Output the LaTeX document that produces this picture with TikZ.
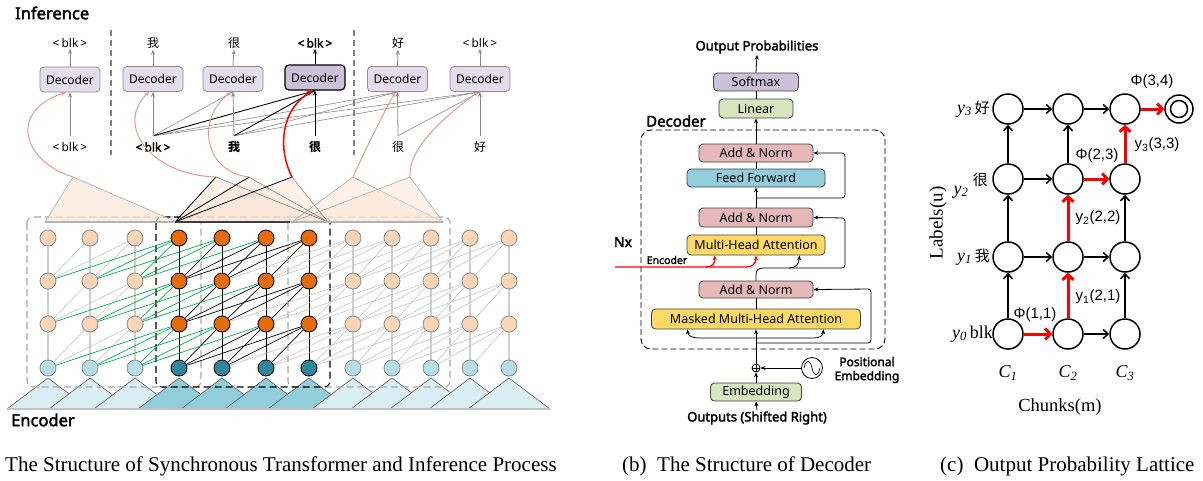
\documentclass[tikz,border=0pt]{standalone}
\usepackage{fontspec}
\setmainfont{Liberation Serif}
\newfontfamily\ns{Noto Sans}[AutoFakeBold=2.2]
\newfontfamily\cjk{Noto Sans CJK SC}
\newfontfamily\ls{Liberation Sans}
\usetikzlibrary{arrows.meta,calc}
\pgfdeclarelayer{bg}
\pgfsetlayers{bg,main}
\definecolor{beigeN}{HTML}{FBD5B5}
\definecolor{blueN}{HTML}{B7DEE8}
\definecolor{orangeN}{HTML}{E46C0A}
\definecolor{tealN}{HTML}{31859C}
\definecolor{encD}{HTML}{8C8C8C}
\definecolor{triL}{HTML}{DAEEF3}
\definecolor{triD}{HTML}{92CDDC}
\definecolor{topT}{HTML}{FBE5D6}
\definecolor{decF}{HTML}{E2DEEB}
\definecolor{decHc}{HTML}{CCC1DA}
\definecolor{decD}{HTML}{8C8C8C}
\definecolor{pinkL}{HTML}{E39A93}
\definecolor{grnL}{HTML}{00B050}
\definecolor{lgry}{HTML}{C4C4C4}
\definecolor{lgryv}{HTML}{CFCFCF}
\definecolor{gA}{HTML}{8A8A8A}
\definecolor{softF}{HTML}{CCC0DA}
\definecolor{linF}{HTML}{D7E4BD}
\definecolor{anF}{HTML}{E6B9B8}
\definecolor{ffF}{HTML}{93CDDD}
\definecolor{mhaF}{HTML}{FFD966}
\definecolor{bxD}{HTML}{404040}
\tikzset{
 enc/.style={circle,draw=encD,fill=beigeN,minimum size=16pt,inner sep=0pt,line width=0.8pt},
 encB/.style={enc,fill=blueN},
 encH/.style={enc,draw=black,fill=orangeN},
 encHB/.style={encH,fill=tealN},
 gl/.style={draw=lgry,line width=0.6pt},
 glv/.style={draw=lgryv,line width=1.3pt},
 bl/.style={draw=black,line width=0.7pt},
 gn/.style={draw=grnL,line width=0.7pt},
 dec/.style={draw=decD,fill=decF,rounded corners=4pt,minimum width=60pt,minimum height=25pt,inner sep=0pt,line width=0.8pt,font=\ns\fontsize{12}{14}\selectfont},
 decK/.style={dec,draw=black,fill=decHc,line width=1.2pt},
 tok/.style={font=\ns\fontsize{12}{14}\selectfont,inner sep=0pt,minimum height=22pt},
 otok/.style={font=\ns\fontsize{12}{14}\selectfont,inner sep=1pt},
 ga/.style={draw=gA,line width=0.6pt},
 bk/.style={draw=black,line width=0.9pt},
 arrG/.style={-{Stealth[length=5pt,width=4pt]},draw=gA,line width=0.8pt},
 arrK/.style={-{Stealth[length=5pt,width=4pt]},draw=black,line width=1pt},
 pinkc/.style={-{Stealth[length=5pt,width=4pt]},draw=pinkL,line width=1pt},
 redc/.style={-{Stealth[length=6pt,width=5pt]},draw=red,line width=1.5pt},
 sepl/.style={draw=gray,line width=1.3pt,dash pattern=on 6pt off 4pt},
 chunkG/.style={draw=gray!70,line width=1.1pt,dash pattern=on 7pt off 4pt,rounded corners=6pt},
 chunkK/.style={draw=black,line width=1.1pt,dash pattern=on 7pt off 4pt,rounded corners=6pt},
 bx/.style={draw=bxD,line width=0.8pt,rounded corners=4pt,inner sep=0pt,font=\ns\fontsize{12.5}{14}\selectfont},
 lnB/.style={draw=black,line width=0.8pt},
 arrB/.style={-{Stealth[length=5pt,width=4pt]},draw=black,line width=0.8pt},
 redA/.style={-{Stealth[length=5pt,width=4pt]},draw=red,line width=1.3pt},
 blab/.style={font=\ns\bfseries\fontsize{12.5}{14}\selectfont,inner sep=1pt},
 lat/.style={circle,draw,line width=1.5pt,minimum size=30pt,inner sep=0pt},
 larr/.style={-{Straight Barb[length=5pt,width=9pt]},line width=1.5pt},
 rarr/.style={-{Straight Barb[length=5pt,width=11pt]},draw=red,line width=3pt},
 plab/.style={font=\ls\fontsize{15}{17}\selectfont,inner sep=0pt},
 captxt/.style={font=\fontsize{21}{23}\selectfont,anchor=west,inner sep=0pt}
}
\begin{document}
\begin{tikzpicture}[x=1pt,y=-1pt]
\useasboundingbox (0,0) rectangle (1203,480);
% ---------------- (a) encoder grid ----------------
\def\xs{48,90,135,179,222,266,309,353,392,431,470,509}
\foreach \xx [count=\c from 0] in \xs {
  \foreach \yy [count=\r from 0] in {238,281,324,368} {
    \def\st{enc}\ifnum\c>2 \ifnum\c<7 \def\st{encH}\fi\fi
    \ifnum\r=3 \edef\st{\st B}\fi
    \node[\st] (e-\r-\c) at (\xx,\yy) {};
  }
}
\begin{pgfonlayer}{bg}
% bottom triangles
\foreach \xx [count=\c from 0] in \xs {
  \def\tf{triL}\ifnum\c>2 \ifnum\c<7 \def\tf{triD}\fi\fi
  \filldraw[fill=\tf,draw=black!65,line width=0.6pt] (\xx-41,409) -- (\xx,378) -- (\xx+41,409) -- cycle;
}
\draw[draw=lgry,line width=1.5pt] (7,409) -- (550,409);
% chunk boxes
\draw[chunkG] (27,217) rectangle (201,387);
\draw[chunkG] (288,217) rectangle (450,387);
\draw[chunkK] (156,217) rectangle (330,387);
% top triangles
\coordinate (a1) at (73,177);
\coordinate (a2) at (216,177);
\coordinate (a3) at (249,177);
\coordinate (a4) at (292,177);
\coordinate (a5) at (353,177);
\coordinate (a6) at (410,177);
\fill[topT,opacity=0.7] (45,222) -- (a1) -- (177,222) -- cycle;
\draw[draw=black!30,line width=0.7pt] (45,222) -- (a1) -- (177,222);
\foreach \a in {a2,a3,a4}{
  \fill[topT,opacity=0.55] (175,222) -- (\a) -- (328,222) -- cycle;
}
\foreach \a in {a5,a6}{
  \fill[topT,opacity=0.55] (292,222) -- (\a) -- (443,222) -- cycle;
  \draw[draw=black!30,line width=0.7pt] (292,222) -- (\a) -- (443,222);
}
\foreach \a in {a2,a3,a4}{
  \draw[draw=black!45,line width=0.7pt] (\a) -- (328,222);
  \draw[draw=black,line width=0.8pt] (175,222) -- (\a);
}
\draw[draw=black!30,line width=1.2pt] (45,222) -- (443,222);
\draw[draw=black!75,line width=1.3pt] (175,222) -- (290,222);
% encoder connections
\foreach \r in {0,1,2}{
  \pgfmathtruncatemacro\rr{\r+1}
  \foreach \c in {0,...,11}{
    \foreach \k in {0,1,2,3}{
      \pgfmathtruncatemacro\tc{\c-\k}
      \ifnum\tc>-1
        \def\sty{gl}\ifnum\k=0 \def\sty{glv}\fi
        \ifnum\c>2 \ifnum\c<7 \def\sty{bl}\ifnum\tc<3 \def\sty{gn}\fi\fi\fi
        \draw[\sty] (e-\r-\c) -- (e-\rr-\tc);
      \fi
    }
  }
}
\end{pgfonlayer}
\node[font=\ns\bfseries\fontsize{16.5}{18}\selectfont,anchor=west,inner sep=0pt] (enclab) at (11,420) {Encoder};
\node[font=\ns\bfseries\fontsize{16.5}{18}\selectfont,anchor=west,inner sep=0pt] (inflab) at (15,13) {Inference};
% ---------------- (a) inference ----------------
\draw[sepl] (111,30) -- (111,155);
\draw[sepl] (354,30) -- (354,155);
\node[dec] (d1) at (70,79.5) {Decoder};
\node[dec] (d2) at (153,79) {Decoder};
\node[dec] (d3) at (233,79) {Decoder};
\node[decK] (d4) at (315,77.5) {Decoder};
\node[dec] (d5) at (397.5,79) {Decoder};
\node[dec] (d6) at (480,79) {Decoder};
\node[otok] (o1) at (70,43) {\textless\,blk\,\textgreater};
\node[otok] (o2) at (153,43) {\cjk 我};
\node[otok] (o3) at (234,43) {\cjk 很};
\node[otok,font=\ns\bfseries\fontsize{12}{14}\selectfont] (o4) at (315,43) {\textless\,blk\,\textgreater};
\node[otok] (o5) at (398,43) {\cjk 好};
\node[otok] (o6) at (480,43) {\textless\,blk\,\textgreater};
\node[tok] (i1) at (70,147) {\textless\,blk\,\textgreater};
\node[tok,font=\ns\bfseries\fontsize{12}{14}\selectfont] (i2) at (153,147) {\textless\,blk\,\textgreater};
\node[tok] (i3) at (234,147) {\cjk\bfseries 我};
\node[tok] (i4) at (315,147) {\cjk\bfseries 很};
\node[tok] (i5) at (398,147) {\cjk 很};
\node[tok] (i6) at (480,147) {\cjk 好};
\foreach \n in {1,2,3,5,6}{\draw[arrG] (d\n.north) -- (o\n.south);}
\draw[arrK] (d4.north) -- (o4.south);
\foreach \a/\b in {2/3,2/5,2/6,3/5,3/6,5/6}{\draw[ga] (i\a.north) -- (d\b.south);}
\foreach \a in {2,3}{\draw[bk] (i\a.north) -- (d4.south);}
\foreach \n in {1,2,3,5,6}{\draw[arrG] (i\n.north) -- (d\n.south);}
\draw[arrK] (i4.north) -- (d4.south);
\draw[pinkc] (a1) .. controls (20,160) and (10,110) .. ([xshift=-4pt]d1.south);
\draw[pinkc] (a2) .. controls (150,175) and (115,125) .. ([xshift=-4pt]d2.south);
\draw[pinkc] (a3) .. controls (205,172) and (195,120) .. ([xshift=-2pt]d3.south);
\draw[redc] (a4) .. controls (278,150) and (280,110) .. ([xshift=-2pt]d4.south);
\draw[pinkc] (a5) .. controls (365,150) and (385,110) .. ([xshift=-2pt]d5.south);
\draw[pinkc] (a6) .. controls (408,150) and (440,120) .. ([xshift=-2pt]d6.south);
% ---------------- (b) decoder ----------------
\draw[draw=black,line width=0.9pt,dash pattern=on 6pt off 3pt,rounded corners=10pt] (641,130) rectangle (885,349);
\node[blab,font=\ns\bfseries\fontsize{15}{17}\selectfont] (declab) at (676,121) {Decoder};
\node[blab,font=\ns\bfseries\fontsize{14}{16}\selectfont] (nx) at (623,242) {Nx};
\node[blab,font=\ns\bfseries\fontsize{13}{15}\selectfont] (outp) at (757,47) {Output Probabilities};
\node[bx,fill=softF,minimum width=85pt,minimum height=18pt] (soft) at (756,82) {Softmax};
\node[bx,fill=linF,minimum width=74pt,minimum height=19pt] (lin) at (756,108.5) {Linear};
\node[bx,fill=anF,minimum width=114pt,minimum height=18pt] (an1) at (756,153) {Add \& Norm};
\node[bx,fill=ffF,minimum width=138pt,minimum height=18pt] (ff) at (756,178) {Feed Forward};
\node[bx,fill=anF,minimum width=114pt,minimum height=19pt] (an2) at (756,217.5) {Add \& Norm};
\node[bx,fill=mhaF,minimum width=138pt,minimum height=20pt] (mha) at (756,245) {Multi-Head Attention};
\node[bx,fill=anF,minimum width=114pt,minimum height=17pt] (an3) at (756,289.5) {Add \& Norm};
\node[bx,fill=mhaF,minimum width=209pt,minimum height=20pt] (mmha) at (756,319) {Masked Multi-Head Attention};
\node[circle,draw,line width=0.8pt,minimum size=8pt,inner sep=0pt] (plus) at (756,368) {};
\draw[line width=0.6pt] (plus.north) -- (plus.south) (plus.west) -- (plus.east);
\node[circle,draw,line width=0.8pt,minimum size=21pt,inner sep=0pt] (sine) at (812,368) {};
\draw[line width=0.7pt] ([xshift=-8pt]sine.center) .. controls +(2,-9) and +(-2,-9) .. (sine.center) .. controls +(2,9) and +(-2,9) .. ([xshift=8pt]sine.center);
\node[blab,align=center,font=\ns\bfseries\fontsize{12}{14}\selectfont] (posl) at (867,370) {Positional\\Embedding};
\node[bx,fill=linF,minimum width=91pt,minimum height=18pt] (emb) at (756,392) {Embedding};
\node[blab,font=\ns\bfseries\fontsize{13}{15}\selectfont] (outs) at (757,418) {Outputs (Shifted Right)};
\draw[arrB] (soft.north) -- (outp.south);
\draw[lnB] (lin.north) -- (soft.south);
\draw[arrB] (an1.north) -- (lin.south);
\draw[lnB] (ff.north) -- (an1.south);
\draw[arrB] (an2.north) -- (ff.south);
\draw[lnB] (mha.north) -- (an2.south);
\draw[arrB,rounded corners=3pt] (756,198) -- (845,198) -- (845,153) -- (an1.east);
\draw[lnB] (an3.north) -- (756,275) .. controls (756,270) and (758,268) .. (764,268);
\draw[arrB,rounded corners=3pt] (764,268) -- (845,268) -- (845,218) -- (an2.east);
\draw[arrB] (789,268) .. controls (796,268) and (799,264) .. ([xshift=-26pt]mha.south east);
\draw[lnB] (mmha.north) -- (an3.south);
\draw[arrB,rounded corners=3pt] (756,343) -- (871,343) -- (871,289) -- (an3.east);
\draw[arrB] (emb.north) -- (plus.south);
\draw[arrB] (plus.north) -- (mmha.south);
\draw[arrB] (outs.north) -- (emb.south);
\draw[arrB] (sine.west) -- (plus.east);
\draw[arrB] (756,338) -- (700,338) .. controls (692,338) and (688,336) .. ([xshift=36.5pt]mmha.south west);
\draw[arrB] (756,338) -- (812,338) .. controls (820,338) and (823,336) .. ([xshift=-37.5pt]mmha.south east);
\draw[redA] (615,267) -- (706,267) .. controls (712,267) and (715,264) .. ([xshift=28pt]mha.south west);
\draw[redA] (706,267) -- (746,267) .. controls (752,267) and (756,264) .. (mha.south);
\node[blab,font=\ns\bfseries\fontsize{10.5}{12}\selectfont] (enctxt) at (667,260) {Encoder};
% ---------------- (c) lattice ----------------
\foreach \xx [count=\m] in {1008,1068,1125}{
  \foreach \yy [count=\u from 0] in {334,257,179,109}{
    \node[lat] (L-\m-\u) at (\xx,\yy) {};
  }
}
\node[circle,draw,line width=1.5pt,minimum size=28pt,inner sep=0pt] (fin) at (1179,109) {};
\node[circle,draw,line width=1.5pt,minimum size=17pt,inner sep=0pt] (fin2) at (1179,109) {};
\draw[larr] (L-2-0) -- (L-3-0);
\draw[larr] (L-1-1) -- (L-2-1);
\draw[larr] (L-2-1) -- (L-3-1);
\draw[larr] (L-1-2) -- (L-2-2);
\draw[larr] (L-1-3) -- (L-2-3);
\draw[larr] (L-2-3) -- (L-3-3);
\draw[larr] (L-1-0) -- (L-1-1);
\draw[larr] (L-1-1) -- (L-1-2);
\draw[larr] (L-1-2) -- (L-1-3);
\draw[larr] (L-2-2) -- (L-2-3);
\draw[larr] (L-3-0) -- (L-3-1);
\draw[larr] (L-3-1) -- (L-3-2);
\draw[rarr] (L-1-0) -- (L-2-0);
\draw[rarr] (L-2-0) -- (L-2-1);
\draw[rarr] (L-2-1) -- (L-2-2);
\draw[rarr] (L-2-2) -- (L-3-2);
\draw[rarr] (L-3-2) -- (L-3-3);
\draw[rarr] (L-3-3) -- (fin);
\node[plab] (p34) at (1152,82) {Φ(3,4)};
\node[plab] (p33) at (1157,145) {y\textsubscript{3}(3,3)};
\node[plab] (p23) at (1097,156) {Φ(2,3)};
\node[plab] (p22) at (1098,218) {y\textsubscript{2}(2,2)};
\node[plab] (p21) at (1098,297) {y\textsubscript{1}(2,1)};
\node[plab] (p11) at (1035,315) {Φ(1,1)};
\node[anchor=east,inner sep=0pt,font=\fontsize{18}{20}\selectfont] (r3) at (990,109) {\textit{y}\textsubscript{\textit{3}}\,{\cjk\fontsize{15}{17}\selectfont 好}};
\node[anchor=east,inner sep=0pt,font=\fontsize{15}{17}\selectfont\cjk] (r2c) at (988,180) {很};
\node[anchor=center,inner sep=0pt,font=\fontsize{18}{20}\selectfont] (r2) at (961,192) {\textit{y}\textsubscript{\textit{2}}};
\node[anchor=east,inner sep=0pt,font=\fontsize{18}{20}\selectfont] (r1) at (990,257) {\textit{y}\textsubscript{\textit{1}}\,{\cjk\fontsize{15}{17}\selectfont 我}};
\node[anchor=east,inner sep=0pt,font=\fontsize{18}{20}\selectfont] (r0) at (993,334) {\textit{y}\textsubscript{\textit{0}}\,blk};
\node[rotate=90,inner sep=0pt,font=\fontsize{19}{21}\selectfont] (ylab) at (938,223) {Labels(u)};
\node[inner sep=0pt,font=\itshape\fontsize{18}{20}\selectfont] (c1) at (1008,373) {C\textsubscript{1}};
\node[inner sep=0pt,font=\itshape\fontsize{18}{20}\selectfont] (c2) at (1068,373) {C\textsubscript{2}};
\node[inner sep=0pt,font=\itshape\fontsize{18}{20}\selectfont] (c3) at (1125,373) {C\textsubscript{3}};
\node[inner sep=0pt,font=\fontsize{18.5}{20}\selectfont] (xlab) at (1060,407) {Chunks(m)};
% ---------------- captions ----------------
\node[captxt] (capa) at (5,466) {The Structure of Synchronous Transformer and Inference Process};
\node[captxt] (capb) at (622,466) {(b)\ \ The Structure of Decoder};
\node[captxt] (capc) at (940,466) {(c)\ \ Output Probability Lattice};
\end{tikzpicture}
\end{document}
